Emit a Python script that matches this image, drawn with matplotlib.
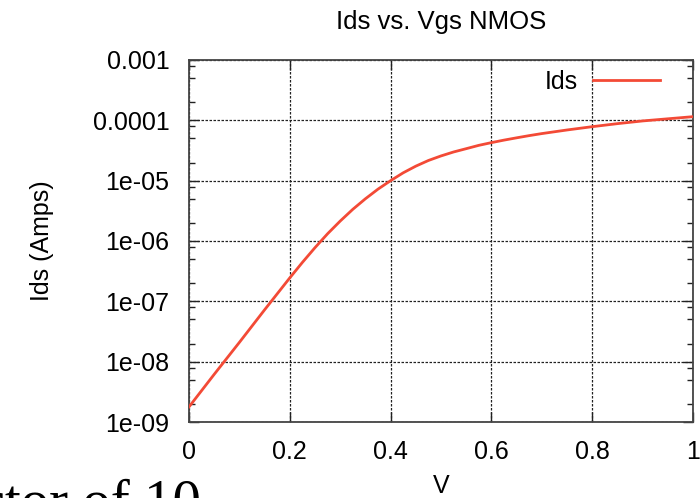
import matplotlib
matplotlib.use("Agg")
import matplotlib.pyplot as plt
from matplotlib.ticker import LogLocator, NullFormatter, FixedLocator

# Drain current vs. gate voltage for an NMOS device
vgs = [0.00, 0.05, 0.10, 0.15, 0.20, 0.225, 0.25, 0.275, 0.30, 0.325, 0.35,
       0.375, 0.40, 0.425, 0.45, 0.475, 0.50, 0.525, 0.55, 0.575, 0.60,
       0.625, 0.65, 0.675, 0.70, 0.75, 0.80, 0.85, 0.90, 0.95, 1.00]
ids = [1.78e-9, 6.17e-9, 2.09e-8, 7.24e-8, 2.45e-7, 4.42e-7, 7.76e-7, 1.32e-6,
       2.14e-6, 3.35e-6, 5.01e-6, 7.24e-6, 1.0e-5, 1.35e-5, 1.74e-5, 2.16e-5,
       2.57e-5, 2.99e-5, 3.39e-5, 3.85e-5, 4.27e-5, 4.70e-5, 5.13e-5, 5.58e-5,
       6.03e-5, 6.92e-5, 7.85e-5, 8.81e-5, 9.77e-5, 1.06e-4, 1.15e-4]

x_ticks = [0, 0.2, 0.4, 0.6, 0.8, 1.0]
x_tick_labels = ["0", "0.2", "0.4", "0.6", "0.8", "1"]
y_ticks = [1e-9, 1e-8, 1e-7, 1e-6, 1e-5, 1e-4, 1e-3]
y_tick_labels = ["1e-09", "1e-08", "1e-07", "1e-06", "1e-05", "0.0001", "0.001"]

plt.rcParams["font.family"] = ["Liberation Sans", "DejaVu Sans"]

fig = plt.figure(figsize=(7.0, 4.98), dpi=100)
ax = fig.add_axes([189 / 700, 1 - 422 / 498, (693 - 189) / 700, (422 - 60) / 498])

ax.plot(vgs, ids, color="#f34a36", lw=2.0, label="Ids", zorder=3,
        solid_joinstyle="round")

ax.set_yscale("log")
ax.set_xlim(0, 1)
ax.set_ylim(1e-9, 1e-3)

ax.xaxis.set_major_locator(FixedLocator(x_ticks))
ax.set_xticklabels(x_tick_labels)
ax.yaxis.set_major_locator(FixedLocator(y_ticks))
ax.set_yticklabels(y_tick_labels)
ax.yaxis.set_minor_locator(LogLocator(base=10, subs=(2.0, 5.0, 8.0)))
ax.yaxis.set_minor_formatter(NullFormatter())

ax.tick_params(axis="both", which="major", direction="in", length=7, width=1,
               labelsize=18, top=True, right=True, color="#222222")
ax.tick_params(axis="y", which="minor", direction="in", length=4, width=1,
               right=True, color="#222222")
ax.tick_params(axis="y", which="major", pad=14)
ax.tick_params(axis="x", which="major", pad=13)

ax.grid(True, which="major", color="#222222", lw=0.9, ls=(0, (2, 1.2)))
for s in ax.spines.values():
    s.set_color("#444444")
    s.set_linewidth(1.3)

ax.set_title("Ids vs. Vgs NMOS", fontsize=18.5, pad=22)
ax.set_xlabel("V", fontsize=18, labelpad=7)
ax.set_ylabel("Ids (Amps)", fontsize=18, labelpad=28)

leg = ax.legend(loc="upper right", frameon=False, fontsize=18,
                handlelength=2.7, markerfirst=False, borderaxespad=0.2,
                handletextpad=0.6, bbox_to_anchor=(0.965, 1.014))

fig.text(201 / 700, -20 / 498, "a factor of 10", fontsize=41,
         family=["Liberation Serif", "DejaVu Serif"], ha="right", va="baseline")

fig.savefig("out.png", dpi=100)
